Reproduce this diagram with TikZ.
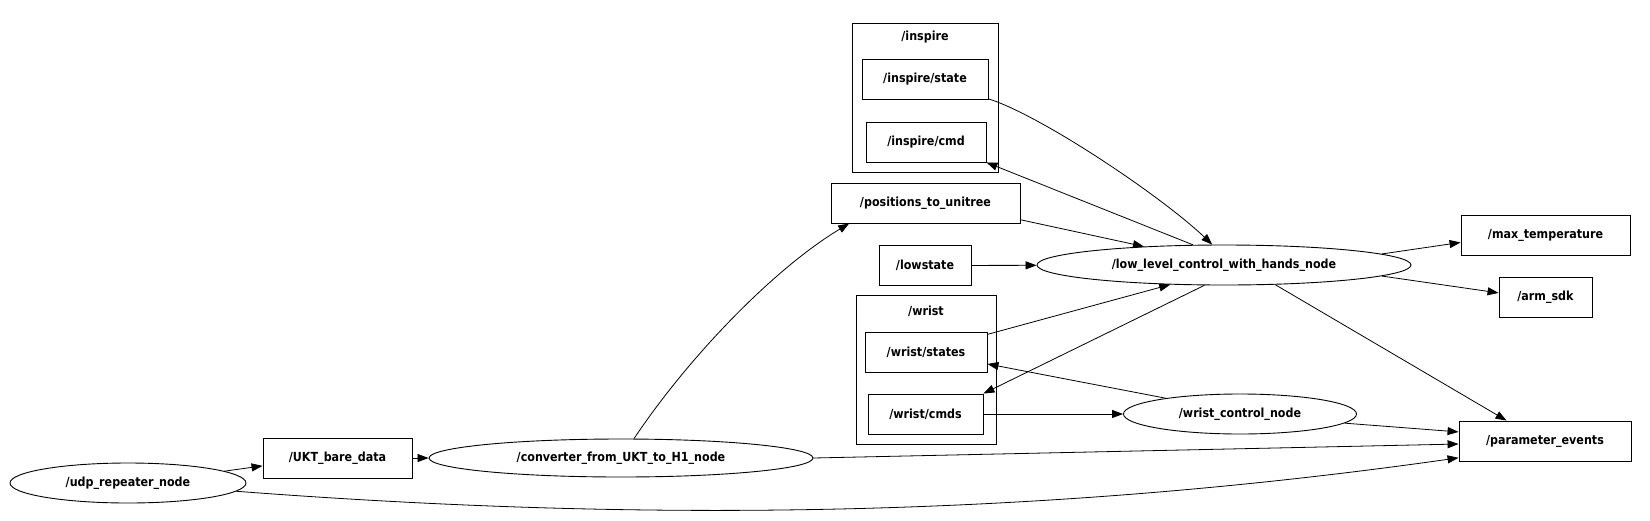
\documentclass[tikz,border=0pt]{standalone}
\usepackage{fontspec}
\setmainfont{DejaVu Sans}[BoldFeatures={FakeStretch=0.89}]
\usetikzlibrary{arrows.meta,positioning,shapes.geometric}
\tikzset{
  topic/.style      = {draw, rectangle, line width=0.9pt, minimum height=40pt, inner sep=0pt},
  rosnode/.style    = {draw, ellipse, line width=0.9pt, minimum height=40pt, inner sep=0pt},
  cluster/.style    = {draw, rectangle, line width=0.9pt, inner sep=0pt},
  sig/.style        = {-{Triangle[length=11pt,width=8pt]}, line width=0.8pt},
  every node/.style = {font=\bfseries\fontsize{12.5}{15}\selectfont},
}

\begin{document}
\begin{tikzpicture}[x=1pt,y=-1pt]
  \useasboundingbox (0,0) rectangle (1650,520);
  % groups
  \node[cluster, minimum width=146pt, minimum height=149pt] (inspire) at (925,97.5) {};
  \node (inspirelbl) at (925,37) {/inspire};
  \node[cluster, minimum width=140pt, minimum height=149pt] (wrist) at (926,369.5) {};
  \node (wristlbl) at (926,311) {/wrist};
  % topics
  \node[topic, minimum width=126pt] (istate) at (925,79) {/inspire/state};
  \node[topic, minimum width=120pt] (icmd) at (926,142) {/inspire/cmd};
  \node[topic, minimum width=122pt] (wstates) at (926,352) {/wrist/states};
  \node[topic, minimum width=115pt] (wcmds) at (925.5,414) {/wrist/cmds};
  \node[topic, minimum width=149pt] (ukt) at (337.5,458) {/UKT\_bare\_data};
  \node[topic, minimum width=189pt] (pos) at (925.5,203) {/positions\_to\_unitree};
  \node[topic, minimum width=92pt] (lowstate) at (925,265.5) {/lowstate};
  \node[topic, minimum width=169pt] (maxt) at (1545.5,235) {/max\_temperature};
  \node[topic, minimum width=93pt] (arm) at (1545.5,297) {/arm\_sdk};
  \node[topic, minimum width=172pt] (param) at (1545,441) {/parameter\_events};
  % nodes
  \node[rosnode, minimum width=236pt] (udp) at (128,483) {/udp\_repeater\_node};
  \node[rosnode, minimum width=384pt, minimum height=38pt] (conv) at (621,458) {/converter\_from\_UKT\_to\_H1\_node};
  \node[rosnode, minimum width=374pt] (ll) at (1224,265) {/low\_level\_control\_with\_hands\_node};
  \node[rosnode, minimum width=233pt] (wcn) at (1240,414) {/wrist\_control\_node};
  % connections
  \draw[sig] (udp.7) -- (ukt.186);
  \draw[sig] (udp) .. controls (600,519) and (1000,523) .. (param.191);
  \draw[sig] (ukt) -- (conv);
  \draw[sig] (conv) .. controls (690,355) and (775,268) .. (pos.-165);
  \draw[sig] (conv.east) -- (param.182);
  \draw[sig] (pos.-10) -- (ll.167);
  \draw[sig] (istate) .. controls (1040,115) and (1160,195) .. (ll.120);
  \draw[sig] (ll.147) -- (icmd.south east);
  \draw[sig] (lowstate) -- (ll);
  \draw[sig] (wstates.16) -- (ll.200);
  \draw[sig] (ll.226) -- (wcmds.north east);
  \draw[sig] (ll.4) -- (maxt.185);
  \draw[sig] (ll.-4) -- (arm.175);
  \draw[sig] (ll.-21) -- (param.152);
  \draw[sig] (wcn.168) -- (wstates.-11);
  \draw[sig] (wcmds) -- (wcn);
  \draw[sig] (wcn.-5) -- (param.174);
\end{tikzpicture}
\end{document}
